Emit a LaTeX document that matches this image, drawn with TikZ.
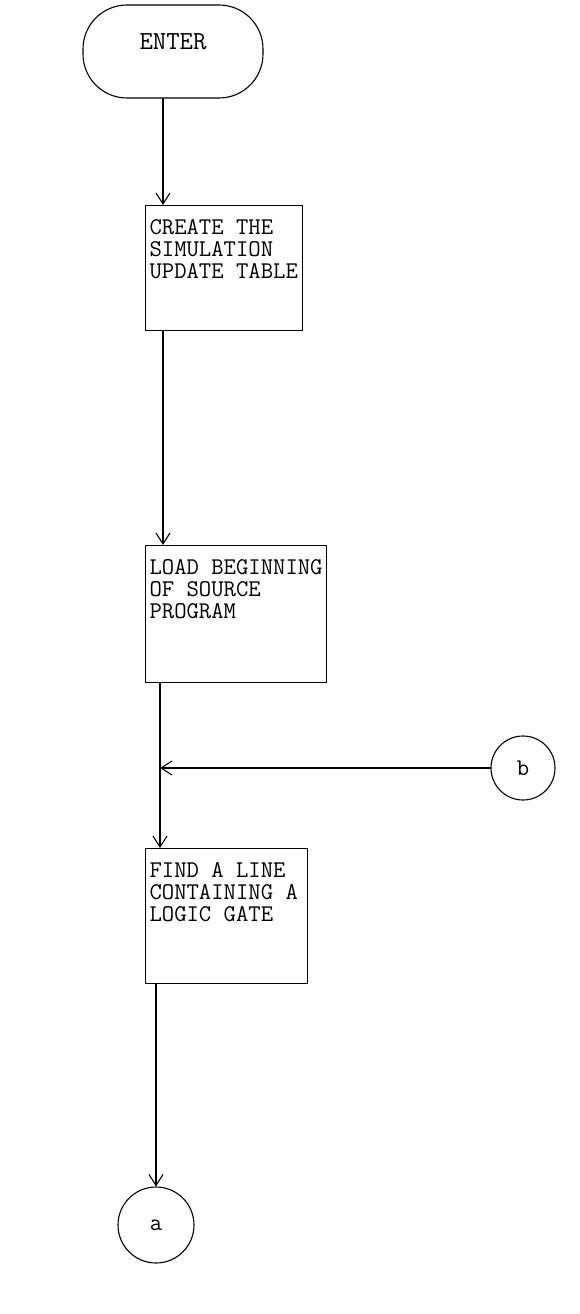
\documentclass[tikz,border=0pt]{standalone}
\usetikzlibrary{arrows.meta}
\newcommand{\proctext}[3]{\parbox[t][#2][t]{#1}{\raggedright\rule{0pt}{23pt}#3}}
\begin{document}
\begin{tikzpicture}[x=1pt,y=-1pt,line join=round,line cap=round,>={Straight Barb[length=11pt,width=14pt]},line width=1.1pt]
	\tikzset{every node/.style={font=\fontsize{24}{22}\selectfont\ttfamily}}
	\tikzset{proc/.style={draw,anchor=north west,inner xsep=4pt,inner ysep=6pt}}
	\tikzset{conn/.style={draw,circle,inner sep=0pt,font=\fontsize{24}{24}\selectfont\ttfamily}}
	\useasboundingbox (0,0) rectangle (579,1314);
	\node[draw,rounded corners=44pt,minimum width=180pt,minimum height=93pt,text height=14pt,text depth=19pt,font=\fontsize{26}{22}\selectfont\ttfamily] (enter) at (173,51.5) {ENTER};
	\node[proc] (create) at (145,205) {\proctext{149pt}{113pt}{\mbox{CREATE THE}\\\mbox{SIMULATION}\\\mbox{UPDATE TABLE}}};
	\node[proc] (load) at (145,545) {\proctext{173pt}{125pt}{\mbox{LOAD BEGINNING}\\\mbox{OF SOURCE}\\\mbox{PROGRAM}}};
	\node[proc] (find) at (145,848) {\proctext{154pt}{123pt}{\mbox{FIND A LINE}\\\mbox{CONTAINING A}\\\mbox{LOGIC GATE}}};
	\node[conn,minimum size=64pt] (b) at (523,768) {b};
	\node[conn,minimum size=76pt] (a) at (156,1225) {a};
	\coordinate (col) at (163,0);
	\coordinate (col2) at (160,0);
	\draw[->] (col |- enter.south) -- (col |- create.north);
	\draw[->] (col |- create.south) -- (col |- load.north);
	\draw[->] (col2 |- load.south) -- (col2 |- find.north);
	\draw[->] (b) -- (col2 |- b);
	\draw[->] (a |- find.south) -- (a);
\end{tikzpicture}
\end{document}
